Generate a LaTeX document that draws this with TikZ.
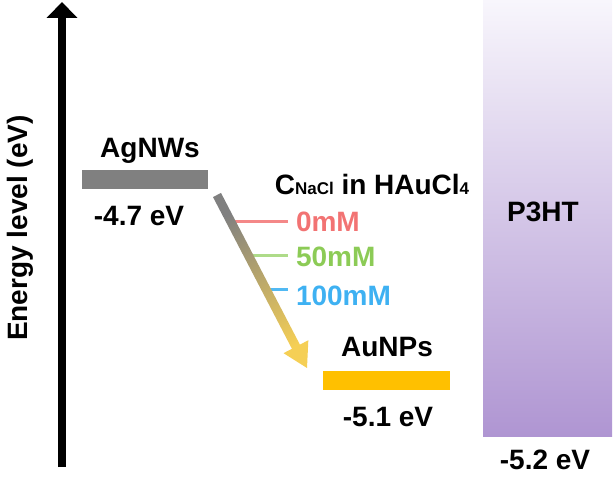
\documentclass[tikz,border=0pt]{standalone}
\usepackage{fontspec}
\setmainfont{Liberation Sans}
\usepackage{tikz}
\usetikzlibrary{arrows.meta, calc}
\definecolor{agGray}{HTML}{808080}
\definecolor{auGold}{HTML}{FFC000}
\definecolor{flowGold}{HTML}{F5CF55}
\definecolor{redMM}{HTML}{F27373}
\definecolor{greenMM}{HTML}{8CCB56}
\definecolor{blueMM}{HTML}{3EB1F2}
\definecolor{polyTop}{HTML}{F8F6FC}
\definecolor{polyMid}{HTML}{E6DDF0}
\definecolor{polyBot}{HTML}{AF95D2}
\newcommand\shaftHalf{4.5pt}
\newcommand\headHalf{14pt}
\newcommand\headLen{24pt}
\newcommand\labelFont{\bfseries\fontsize{28}{28}\selectfont}
\newcommand\smallFont{\bfseries\fontsize{17}{17}\selectfont}

\begin{document}
\begin{tikzpicture}[x=1pt, y=-1pt,
        label/.style={font=\labelFont, inner sep=0pt, anchor=base},
        mmlabel/.style={label, anchor=base west, outer sep=8pt},
        levelbar/.style={inner sep=0pt, minimum height=19pt}]
    \useasboundingbox (0,0) rectangle (614,481);

    % energy axis
    \coordinate (axisBot) at (62,467);
    \coordinate (axisTop) at (62,2);
    \draw[line width=7.5pt, -{Triangle[width=30pt, length=16pt]}] (axisBot) -- (axisTop);
    \node[label, anchor=center, rotate=90] (axisName) at (20,228) {Energy level (eV)};

    % P3HT
    \shade[top color=polyTop, middle color=polyMid, bottom color=polyBot] (483,0) rectangle (612,437);
    \node[label] (p3htName) at (543,222) {P3HT};
    \node[label] (p3htVal) at (545,470) {-5.2 eV};

    % AgNWs
    \node[levelbar, fill=agGray, minimum width=126pt] (agBar) at (145,179.5) {};
    \node[label] (agName) at (150,158) {AgNWs};
    \node[label] (agVal) at (139,226) {-4.7 eV};

    % AuNPs
    \node[levelbar, fill=auGold, minimum width=127pt] (auBar) at (386.5,380.5) {};
    \node[label] (auName) at (387,357) {AuNPs};
    \node[label] (auVal) at (388,427) {-5.1 eV};

    % NaCl concentration
    \node[label] (cName) at (372,195) {C{\smallFont NaCl} in HAuCl{\smallFont 4}};
    \node[mmlabel, text=redMM] (mmZero) at (288,232) {0mM};
    \node[mmlabel, text=greenMM] (mmFifty) at (288,267) {50mM};
    \node[mmlabel, text=blueMM] (mmHundred) at (288,306) {100mM};
    \coordinate (redStart) at (230,222);
    \coordinate (greenStart) at (248,256);
    \coordinate (blueStart) at (262,290);
    \draw[line width=3pt, redMM!85] (redStart) -- (redStart -| mmZero.west);
    \draw[line width=3pt, greenMM!70] (greenStart) -- (greenStart -| mmFifty.west);
    \draw[line width=3pt, blueMM!90] (blueStart) -- (blueStart -| mmHundred.west);

    % electron flow
    \coordinate (flowStart) at (217,195);
    \coordinate (flowTip) at (307,368);
    \coordinate (flowBase) at ($(flowTip)!\headLen!(flowStart)$);
    \shade[top color=agGray, bottom color=flowGold, shading angle=27.5]
        ($(flowStart)!\shaftHalf!90:(flowTip)$)
        -- ($(flowBase)!\shaftHalf!90:(flowTip)$)
        -- ($(flowBase)!\headHalf!90:(flowTip)$)
        -- (flowTip)
        -- ($(flowBase)!\headHalf!-90:(flowTip)$)
        -- ($(flowBase)!\shaftHalf!-90:(flowTip)$)
        -- ($(flowStart)!\shaftHalf!-90:(flowTip)$)
        -- cycle;
\end{tikzpicture}
\end{document}
